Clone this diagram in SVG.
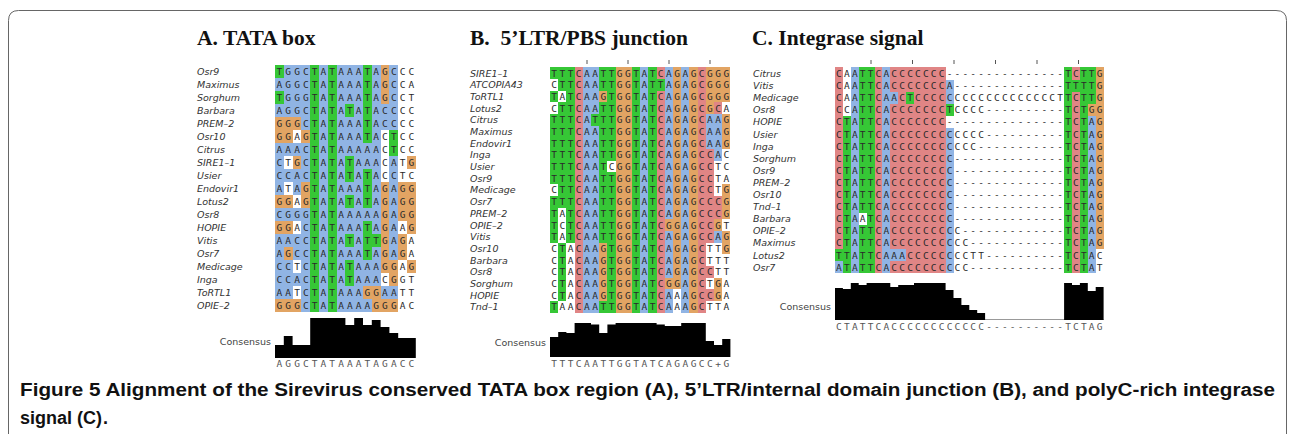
<svg xmlns="http://www.w3.org/2000/svg" width="1292" height="434" viewBox="0 0 1292 434">
<style>
.b{fill:#90b4e4}.g{fill:#36c736}.o{fill:#e2a463}.p{fill:#e08585}.w{fill:#fff}
.ttl{font-family:"Liberation Serif",serif;font-weight:bold;font-size:21.5px;fill:#111}
.nm{font-family:"DejaVu Sans",sans-serif;font-style:italic;font-size:9.5px;fill:#333}
.sq{font-family:"DejaVu Sans Mono",monospace;font-size:9.5px;fill:#2a2a2a}
.sa{letter-spacing:3.08px}.sb{letter-spacing:2.48px}.sc{letter-spacing:2.18px}
.cs{fill:#555}
.lbl{font-family:"DejaVu Sans",sans-serif;font-size:9.5px;fill:#444;text-anchor:end}
.hist{fill:#000}
.base{stroke:#999;stroke-width:1}
.tick{stroke:#555;stroke-width:1}
.cap{font-family:"Liberation Sans",sans-serif;font-weight:bold;font-size:18px;fill:#111}
</style>
<rect width="1292" height="434" fill="#fff"/>
<path d="M8.5,434 V20.5 Q8.5,10.5 18.5,10.5 H1276 Q1286.5,10.5 1286.5,20.5 V434" fill="none" stroke="#666" stroke-width="1"/>

<g id="panelA">
<text class="ttl" x="197" y="45">A. TATA box</text>
<g shape-rendering="crispEdges" transform="translate(275,65) scale(8.8,13)">
<rect class="b" x="0" y="0" width="4" height="19"/>
<rect class="g" x="4" y="0" width="1" height="19"/>
<rect class="b" x="5" y="0" width="1" height="19"/>
<rect class="g" x="6" y="0" width="1" height="19"/>
<rect class="b" x="7" y="0" width="3" height="19"/>
<rect class="g" x="10" y="0" width="1" height="19"/>
<rect class="b" x="11" y="0" width="1" height="19"/>
<rect class="g" x="0" y="0" width="1" height="1"/>
<rect class="g" x="0" y="2" width="1" height="1"/>
<rect class="o" x="0" y="4" width="3" height="1"/>
<rect class="o" x="0" y="5" width="2" height="1"/>
<rect class="w" x="2" y="5" width="1" height="1"/>
<rect class="o" x="3" y="5" width="1" height="1"/>
<rect class="w" x="1" y="7" width="1" height="1"/>
<rect class="o" x="2" y="7" width="1" height="1"/>
<rect class="w" x="1" y="9" width="1" height="1"/>
<rect class="o" x="3" y="9" width="1" height="1"/>
<rect class="o" x="0" y="10" width="2" height="1"/>
<rect class="w" x="2" y="10" width="1" height="1"/>
<rect class="o" x="3" y="10" width="1" height="1"/>
<rect class="o" x="0" y="12" width="2" height="1"/>
<rect class="w" x="2" y="12" width="1" height="1"/>
<rect class="o" x="1" y="14" width="1" height="1"/>
<rect class="w" x="2" y="15" width="1" height="1"/>
<rect class="w" x="2" y="17" width="1" height="1"/>
<rect class="o" x="0" y="18" width="3" height="1"/>
<rect class="g" x="8" y="3" width="1" height="1"/>
<rect class="g" x="8" y="7" width="1" height="2"/>
<rect class="g" x="8" y="10" width="1" height="1"/>
<rect class="g" x="8" y="13" width="1" height="1"/>
<rect class="g" x="8" y="15" width="1" height="2"/>
<rect class="b" x="10" y="6" width="1" height="2"/>
<rect class="b" x="10" y="11" width="1" height="1"/>
<rect class="b" x="10" y="15" width="1" height="2"/>
<rect class="o" x="10" y="17" width="1" height="1"/>
<rect class="b" x="10" y="18" width="1" height="1"/>
<rect class="g" x="11" y="13" width="1" height="1"/>
<rect class="o" x="11" y="17" width="1" height="2"/>
<rect class="o" x="12" y="0" width="1" height="3"/>
<rect class="b" x="12" y="3" width="1" height="2"/>
<rect class="o" x="12" y="9" width="1" height="7"/>
<rect class="b" x="12" y="17" width="1" height="1"/>
<rect class="o" x="12" y="18" width="1" height="1"/>
<rect class="b" x="13" y="0" width="1" height="5"/>
<rect class="g" x="13" y="5" width="1" height="2"/>
<rect class="b" x="13" y="7" width="1" height="8"/>
<rect class="o" x="13" y="15" width="1" height="2"/>
<rect class="b" x="13" y="17" width="1" height="1"/>
<rect class="o" x="13" y="18" width="1" height="1"/>
<rect class="o" x="14" y="9" width="1" height="3"/>
<rect class="o" x="14" y="13" width="1" height="2"/>
<rect class="o" x="15" y="7" width="1" height="1"/>
<rect class="o" x="15" y="9" width="1" height="4"/>
<rect class="o" x="15" y="15" width="1" height="1"/>
</g>
<text class="nm" x="197" y="75"><tspan x="197" y="75">Osr9</tspan><tspan x="197" dy="13">Maximus</tspan><tspan x="197" dy="13">Sorghum</tspan><tspan x="197" dy="13">Barbara</tspan><tspan x="197" dy="13">PREM–2</tspan><tspan x="197" dy="13">Osr10</tspan><tspan x="197" dy="13">Citrus</tspan><tspan x="197" dy="13">SIRE1–1</tspan><tspan x="197" dy="13">Usier</tspan><tspan x="197" dy="13">Endovir1</tspan><tspan x="197" dy="13">Lotus2</tspan><tspan x="197" dy="13">Osr8</tspan><tspan x="197" dy="13">HOPIE</tspan><tspan x="197" dy="13">Vitis</tspan><tspan x="197" dy="13">Osr7</tspan><tspan x="197" dy="13">Medicage</tspan><tspan x="197" dy="13">Inga</tspan><tspan x="197" dy="13">ToRTL1</tspan><tspan x="197" dy="13">OPIE–2</tspan></text>
<text class="sq sa" x="276.54" y="75"><tspan x="276.54" y="75">TGGCTATAAATAGCCC</tspan><tspan x="276.54" dy="13">AGGCTATAAATAGCCA</tspan><tspan x="276.54" dy="13">TGGGTATAAATAGCCT</tspan><tspan x="276.54" dy="13">AGGCTATATATACCCC</tspan><tspan x="276.54" dy="13">GGGCTATAAATACCCC</tspan><tspan x="276.54" dy="13">GGAGTATAAATACTCC</tspan><tspan x="276.54" dy="13">AAACTATAAAAACTCC</tspan><tspan x="276.54" dy="13">CTGCTATATAAACATG</tspan><tspan x="276.54" dy="13">CCACTATATATACCTC</tspan><tspan x="276.54" dy="13">ATAGTATAAATAGAGG</tspan><tspan x="276.54" dy="13">GGAGTATATATAGAGG</tspan><tspan x="276.54" dy="13">CGGGTATAAAAAGAGG</tspan><tspan x="276.54" dy="13">GGACTATAAATAGAAG</tspan><tspan x="276.54" dy="13">AACCTATATATTGAGA</tspan><tspan x="276.54" dy="13">AGCCTATAAATAGAGA</tspan><tspan x="276.54" dy="13">CCTCTATATAAAGGAG</tspan><tspan x="276.54" dy="13">CCACTATATAAACGGT</tspan><tspan x="276.54" dy="13">AATCTATAAAGGAATT</tspan><tspan x="276.54" dy="13">GGGCTATAAAAGGGAC</tspan></text>
<text class="lbl" x="271" y="345">Consensus</text>
<path class="hist" d="M275,358 V345 H283.8 V336 H292.6 V345 H310.2 V318 H345.4 V325 H354.2 V318 H363 V325 H371.8 V320 H380.6 V327 H389.4 V333 H398.2 V338 H415.8 V358 Z"/>
<text class="sq sa cs" x="276.54" y="367">AGGCTATAAATAGACC</text>
</g>

<g id="panelB">
<text class="ttl" x="470" y="45">B.&#160; 5’LTR/PBS junction</text>
<g class="tick"><line x1="587" y1="60" x2="587" y2="64"/><line x1="628" y1="60" x2="628" y2="64"/><line x1="669" y1="60" x2="669" y2="64"/><line x1="710" y1="60" x2="710" y2="64"/></g>
<g shape-rendering="crispEdges" transform="translate(550,67.15) scale(8.2,11.7)">
<rect class="g" x="0" y="0" width="1" height="1"/>
<rect class="g" x="0" y="2" width="1" height="1"/>
<rect class="g" x="0" y="4" width="1" height="6"/>
<rect class="g" x="0" y="11" width="1" height="4"/>
<rect class="g" x="0" y="20" width="1" height="1"/>
<rect class="g" x="1" y="0" width="1" height="2"/>
<rect class="g" x="1" y="3" width="1" height="9"/>
<rect class="g" x="1" y="15" width="1" height="5"/>
<rect class="g" x="2" y="0" width="1" height="15"/>
<rect class="p" x="3" y="0" width="1" height="21"/>
<rect class="b" x="4" y="0" width="2" height="21"/>
<rect class="g" x="5" y="4" width="1" height="1"/>
<rect class="g" x="6" y="0" width="2" height="21"/>
<rect class="o" x="6" y="2" width="1" height="1"/>
<rect class="o" x="6" y="15" width="1" height="5"/>
<rect class="w" x="7" y="8" width="1" height="1"/>
<rect class="o" x="8" y="0" width="2" height="21"/>
<rect class="g" x="10" y="0" width="1" height="21"/>
<rect class="b" x="11" y="0" width="1" height="21"/>
<rect class="g" x="12" y="0" width="1" height="21"/>
<rect class="p" x="13" y="0" width="1" height="21"/>
<rect class="g" x="13" y="1" width="1" height="1"/>
<rect class="b" x="14" y="0" width="1" height="21"/>
<rect class="o" x="14" y="13" width="1" height="1"/>
<rect class="o" x="14" y="18" width="1" height="1"/>
<rect class="o" x="15" y="0" width="1" height="21"/>
<rect class="w" x="15" y="19" width="1" height="2"/>
<rect class="b" x="16" y="0" width="1" height="21"/>
<rect class="o" x="17" y="0" width="1" height="21"/>
<rect class="p" x="18" y="0" width="1" height="21"/>
<rect class="o" x="19" y="0" width="1" height="4"/>
<rect class="b" x="19" y="4" width="1" height="3"/>
<rect class="p" x="19" y="7" width="1" height="8"/>
<rect class="p" x="19" y="17" width="1" height="1"/>
<rect class="p" x="19" y="19" width="1" height="1"/>
<rect class="o" x="20" y="0" width="1" height="3"/>
<rect class="p" x="20" y="3" width="1" height="1"/>
<rect class="b" x="20" y="4" width="1" height="4"/>
<rect class="p" x="20" y="11" width="1" height="2"/>
<rect class="o" x="20" y="13" width="1" height="1"/>
<rect class="b" x="20" y="14" width="1" height="1"/>
<rect class="o" x="20" y="18" width="1" height="2"/>
<rect class="o" x="21" y="0" width="1" height="3"/>
<rect class="o" x="21" y="4" width="1" height="3"/>
<rect class="o" x="21" y="10" width="1" height="3"/>
<rect class="o" x="21" y="14" width="1" height="2"/>
</g>
<text class="nm" x="470" y="76.5"><tspan x="470" y="76.5">SIRE1–1</tspan><tspan x="470" dy="11.7">ATCOPIA43</tspan><tspan x="470" dy="11.7">ToRTL1</tspan><tspan x="470" dy="11.7">Lotus2</tspan><tspan x="470" dy="11.7">Citrus</tspan><tspan x="470" dy="11.7">Maximus</tspan><tspan x="470" dy="11.7">Endovir1</tspan><tspan x="470" dy="11.7">Inga</tspan><tspan x="470" dy="11.7">Usier</tspan><tspan x="470" dy="11.7">Osr9</tspan><tspan x="470" dy="11.7">Medicage</tspan><tspan x="470" dy="11.7">Osr7</tspan><tspan x="470" dy="11.7">PREM–2</tspan><tspan x="470" dy="11.7">OPIE–2</tspan><tspan x="470" dy="11.7">Vitis</tspan><tspan x="470" dy="11.7">Osr10</tspan><tspan x="470" dy="11.7">Barbara</tspan><tspan x="470" dy="11.7">Osr8</tspan><tspan x="470" dy="11.7">Sorghum</tspan><tspan x="470" dy="11.7">HOPIE</tspan><tspan x="470" dy="11.7">Tnd–1</tspan></text>
<text class="sq sb" x="551.24" y="76.5"><tspan x="551.24" y="76.5">TTTCAATTGGTATCAGAGCGGG</tspan><tspan x="551.24" dy="11.7">CTTCAATTGGTATTAGAGCGGG</tspan><tspan x="551.24" dy="11.7">TATCAAGTGGTATCAGAGCGGG</tspan><tspan x="551.24" dy="11.7">CTTCAATTGGTATCAGAGCGCA</tspan><tspan x="551.24" dy="11.7">TTTCATTTGGTATCAGAGCAAG</tspan><tspan x="551.24" dy="11.7">TTTCAATTGGTATCAGAGCAAG</tspan><tspan x="551.24" dy="11.7">TTTCAATTGGTATCAGAGCAAG</tspan><tspan x="551.24" dy="11.7">TTTCAATTGGTATCAGAGCCAC</tspan><tspan x="551.24" dy="11.7">TTTCAATCGGTATCAGAGCCTC</tspan><tspan x="551.24" dy="11.7">TTTCAATTGGTATCAGAGCCTA</tspan><tspan x="551.24" dy="11.7">CTTCAATTGGTATCAGAGCCTG</tspan><tspan x="551.24" dy="11.7">TTTCAATTGGTATCAGAGCCCG</tspan><tspan x="551.24" dy="11.7">TATCAATTGGTATCAGAGCCCG</tspan><tspan x="551.24" dy="11.7">TCTCAATTGGTATCGGAGCCGT</tspan><tspan x="551.24" dy="11.7">TATCAATTGGTATCAGAGCCAG</tspan><tspan x="551.24" dy="11.7">CTACAAGTGGTATCAGAGCTTG</tspan><tspan x="551.24" dy="11.7">CTACAAGTGGTATCAGAGCTTT</tspan><tspan x="551.24" dy="11.7">CTACAAGTGGTATCAGAGCCTT</tspan><tspan x="551.24" dy="11.7">CTACAAGTGGTATCGGAGCTGA</tspan><tspan x="551.24" dy="11.7">CTACAAGTGGTATCAAAGCCGA</tspan><tspan x="551.24" dy="11.7">TAACAATTGGTATCAAAGCTTA</tspan></text>
<text class="lbl" x="546" y="346">Consensus</text>
<path class="hist" d="M550,357 V337 H558.2 V332 H566.4 V333 H574.6 V323 H591 V324.5 H599.2 V333 H607.4 V324.5 H615.6 V323 H656.6 V324.5 H664.8 V326 H681.2 V323 H705.8 V341 H714 V345 H722.2 V339 H730.4 V357 Z"/>
<text class="sq sb cs" x="551.24" y="367">TTTCAATTGGTATCAGAGCC+G</text>
</g>

<g id="panelC">
<text class="ttl" x="752" y="45">C. Integrase signal</text>
<g class="tick"><line x1="871" y1="60" x2="871" y2="64"/><line x1="912.5" y1="60" x2="912.5" y2="64"/><line x1="954" y1="60" x2="954" y2="64"/><line x1="995.5" y1="60" x2="995.5" y2="64"/><line x1="1037" y1="60" x2="1037" y2="64"/><line x1="1078.5" y1="60" x2="1078.5" y2="64"/></g>
<g shape-rendering="crispEdges" transform="translate(835,67.45) scale(7.9,12.1)">
<rect class="p" x="0" y="0" width="1" height="17"/>
<rect class="g" x="0" y="15" width="1" height="1"/>
<rect class="b" x="0" y="16" width="1" height="1"/>
<rect class="g" x="1" y="4" width="1" height="13"/>
<rect class="b" x="2" y="0" width="1" height="17"/>
<rect class="g" x="3" y="0" width="2" height="17"/>
<rect class="w" x="3" y="12" width="1" height="1"/>
<rect class="p" x="5" y="0" width="1" height="17"/>
<rect class="b" x="6" y="0" width="1" height="17"/>
<rect class="p" x="7" y="0" width="7" height="17"/>
<rect class="b" x="7" y="2" width="1" height="1"/>
<rect class="g" x="9" y="2" width="1" height="1"/>
<rect class="b" x="7" y="15" width="2" height="1"/>
<rect class="b" x="14" y="1" width="1" height="2"/>
<rect class="g" x="14" y="3" width="1" height="1"/>
<rect class="b" x="14" y="5" width="1" height="12"/>
<rect class="g" x="29" y="0" width="1" height="17"/>
<rect class="p" x="30" y="0" width="1" height="17"/>
<rect class="g" x="30" y="1" width="1" height="1"/>
<rect class="g" x="31" y="0" width="1" height="17"/>
<rect class="b" x="32" y="0" width="1" height="17"/>
<rect class="g" x="32" y="0" width="1" height="3"/>
<rect class="o" x="32" y="3" width="1" height="1"/>
<rect class="o" x="33" y="0" width="1" height="17"/>
<rect class="w" x="33" y="15" width="1" height="2"/>
</g>
<text class="nm" x="753" y="77"><tspan x="753" y="77">Citrus</tspan><tspan x="753" dy="12.1">Vitis</tspan><tspan x="753" dy="12.1">Medicage</tspan><tspan x="753" dy="12.1">Osr8</tspan><tspan x="753" dy="12.1">HOPIE</tspan><tspan x="753" dy="12.1">Usier</tspan><tspan x="753" dy="12.1">Inga</tspan><tspan x="753" dy="12.1">Sorghum</tspan><tspan x="753" dy="12.1">Osr9</tspan><tspan x="753" dy="12.1">PREM–2</tspan><tspan x="753" dy="12.1">Osr10</tspan><tspan x="753" dy="12.1">Tnd–1</tspan><tspan x="753" dy="12.1">Barbara</tspan><tspan x="753" dy="12.1">OPIE–2</tspan><tspan x="753" dy="12.1">Maximus</tspan><tspan x="753" dy="12.1">Lotus2</tspan><tspan x="753" dy="12.1">Osr7</tspan></text>
<text class="sq sc" x="836.09" y="77"><tspan x="836.09" y="77">CAATTCACCCCCCC---------------TCTTG</tspan><tspan x="836.09" dy="12.1">CAATTCACCCCCCCA--------------TTTTG</tspan><tspan x="836.09" dy="12.1">CAATTCAACTCCCCCCCCCCCCCCCCCCTTCTTG</tspan><tspan x="836.09" dy="12.1">CCATTCACCCCCCCTCCCC----------TCTGG</tspan><tspan x="836.09" dy="12.1">CTATTCACCCCCCC---------------TCTAG</tspan><tspan x="836.09" dy="12.1">CTATTCACCCCCCCCCCCC----------TCTAG</tspan><tspan x="836.09" dy="12.1">CTATTCACCCCCCCCCCC-----------TCTAG</tspan><tspan x="836.09" dy="12.1">CTATTCACCCCCCCC--------------TCTAG</tspan><tspan x="836.09" dy="12.1">CTATTCACCCCCCCC--------------TCTAG</tspan><tspan x="836.09" dy="12.1">CTATTCACCCCCCCC--------------TCTAG</tspan><tspan x="836.09" dy="12.1">CTATTCACCCCCCCC--------------TCTAG</tspan><tspan x="836.09" dy="12.1">CTATTCACCCCCCCC--------------TCTAG</tspan><tspan x="836.09" dy="12.1">CTAATCACCCCCCCC--------------TCTAG</tspan><tspan x="836.09" dy="12.1">CTATTCACCCCCCCCC-------------TCTAG</tspan><tspan x="836.09" dy="12.1">CTATTCACCCCCCCCCC------------TCTAG</tspan><tspan x="836.09" dy="12.1">TTATTCAAACCCCCCCCTT----------TCTAC</tspan><tspan x="836.09" dy="12.1">ATATTCACCCCCCCCCC------------TCTAT</tspan></text>
<text class="lbl" x="831" y="310">Consensus</text>
<line class="base" x1="835" y1="319.5" x2="1103.6" y2="319.5"/>
<path class="hist" d="M835,320 V288 H842.9 V289 H850.8 V283 H858.7 V285 H866.6 V283 H890.3 V287 H898.2 V285 H914 V283 H945.6 V290 H953.5 V298 H961.4 V305 H969.3 V310 H977.2 V313 H985.1 V320 Z"/>
<path class="hist" d="M1064.1,320 V283 H1072 V285 H1079.9 V283 H1087.8 V291 H1095.7 V287 H1103.6 V320 Z"/>
<text class="sq sc cs" x="836.09" y="330">CTATTCACCCCCCCCCCCC----------TCTAG</text>
</g>

<g id="caption">
<text class="cap" x="20" y="396" textLength="1255" lengthAdjust="spacingAndGlyphs">Figure 5 Alignment of the Sirevirus conserved TATA box region (A), 5’LTR/internal domain junction (B), and polyC-rich integrase</text>
<text class="cap" x="20" y="424">signal (C)</text>
<text class="cap" x="103" y="424" font-weight="normal">.</text>
</g>
</svg>
